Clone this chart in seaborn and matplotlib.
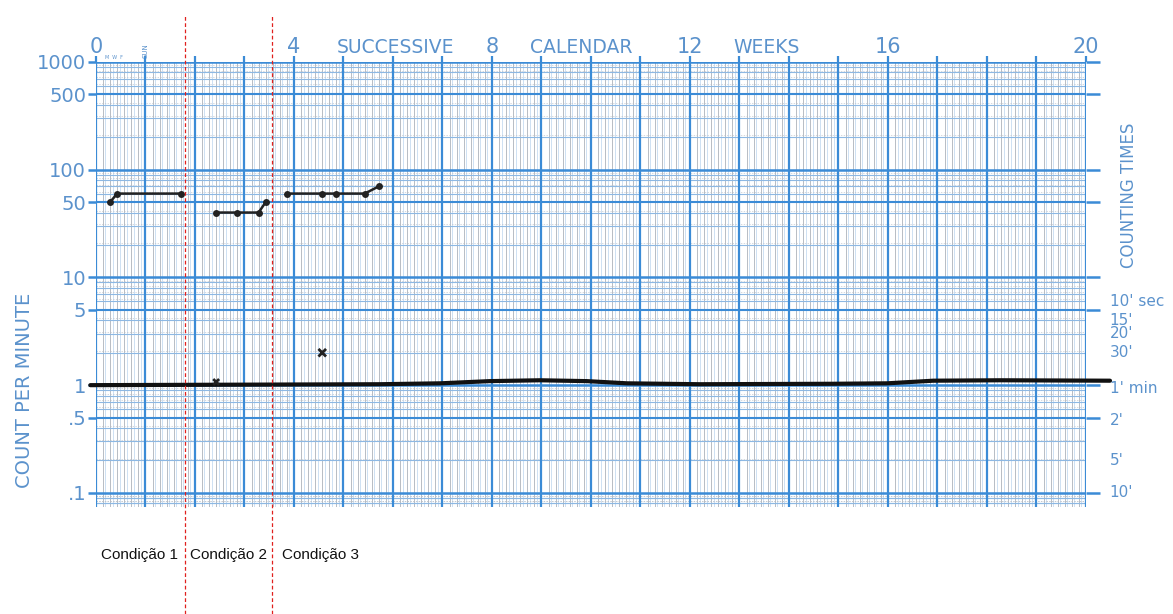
import numpy as np
import pandas as pd
import matplotlib
matplotlib.use("Agg")
import matplotlib.pyplot as plt
import matplotlib.transforms as mtransforms
import seaborn as sns

# ---- data -------------------------------------------------------------
cond1_days = [2, 3, 12]
cond1_rate = [50, 60, 60]
cond2_days = [17, 20, 23, 24]
cond2_rate = [40, 40, 40, 50]
cond3_days = [27, 32, 34, 38, 40]
cond3_rate = [60, 60, 60, 60, 70]

error_days = [17, 32]
error_rate = [1.07, 2.0]

floor_days = [-0.8, 40, 48.7, 55.7, 62.8, 69.4, 75.1, 85.4, 104.2, 111.9, 118.4, 127.9, 143.4]
floor_rate = [1.0, 1.02, 1.04, 1.09, 1.11, 1.09, 1.04, 1.02, 1.03, 1.04, 1.1, 1.11, 1.1]

phase_change_days = [12.6, 24.9]
phase_labels = ["Condição 1", "Condição 2", "Condição 3"]
phase_label_days = [6.1, 18.8, 31.7]

week_labels = {0: "0", 4: "4", 8: "8", 12: "12", 16: "16", 20: "20"}
week_words = {6.05: "SUCCESSIVE", 9.8: "CALENDAR", 13.55: "WEEKS"}
left_ticks = [0.1, 0.5, 1, 5, 10, 50, 100, 500, 1000]
left_tick_labels = [".1", ".5", "1", "5", "10", "50", "100", "500", "1000"]
counting_rates = [6, 4, 3, 2, 0.93, 0.47, 0.2, 0.1]
counting_labels = ["10' sec", "15'", "20'", "30'", "1' min", "2'", "5'", "10'"]

# ---- style ------------------------------------------------------------
sns.set_style("white")
plt.rcParams["font.family"] = ["DejaVu Sans"]
BLUE = "#3b8bd6"
LIGHT = "#8db8e3"
GREY = "#b7bcc4"
TXT = "#5b92cc"

fig = plt.figure(figsize=(11.73, 6.14), dpi=100)
ax = fig.add_axes([0.0818, 0.1743, 0.8440, 0.7248])
ax.set_yscale("log")
ax.set_xlim(0, 140)
ax.set_ylim(0.074, 1000)
for s in ax.spines.values():
    s.set_visible(False)

# ---- chart paper grid -------------------------------------------------
for d in range(0, 141):
    if d % 7 == 0:
        continue
    ax.axvline(d, color=GREY, lw=0.7, zorder=0)
    ax.axvline(d + 0.35, color=LIGHT, lw=0.5, alpha=0.6, zorder=0)
for d in range(0, 141, 7):
    ax.axvline(d, color=BLUE, lw=1.6, zorder=1)

minor_vals = []
for e in range(-2, 3):
    for m in [2, 3, 4, 6, 7, 8, 9]:
        minor_vals.append(m * 10.0 ** e)
minor_vals += [0.08, 0.09]
for v in minor_vals:
    ax.axhline(v, color=LIGHT, lw=0.8, zorder=0)
    ax.axhline(v * 1.04, color=GREY, lw=0.5, ls=(0, (2, 2)), alpha=0.8, zorder=0)
for v in [0.5, 5, 50, 500]:
    ax.axhline(v, color=BLUE, lw=1.5, zorder=1)
for v in [0.1, 1, 10, 100, 1000]:
    ax.axhline(v, color=BLUE, lw=1.8, zorder=1)

# ---- ticks -----------------------------------------------------------
ax.set_yticks(left_ticks)
ax.set_yticklabels(left_tick_labels)
ax.yaxis.set_minor_locator(matplotlib.ticker.NullLocator())
ax.tick_params(axis="y", which="major", left=True, length=6, width=1.8,
               color=BLUE, labelcolor=TXT, labelsize=14, pad=1)
ax.set_xticks(range(0, 141, 7))
ax.set_xticklabels([])
ax.tick_params(axis="x", which="major", bottom=False, top=True, length=4,
               width=1.6, color=BLUE)

ax2 = ax.twinx()
ax2.set_yscale("log")
ax2.set_ylim(ax.get_ylim())
for s in ax2.spines.values():
    s.set_visible(False)
ax2.set_yticks(left_ticks)
ax2.set_yticklabels([])
ax2.yaxis.set_minor_locator(matplotlib.ticker.NullLocator())
ax2.tick_params(axis="y", which="major", right=True, length=10, width=1.8, color=BLUE)
ax2.set_xlim(0, 140)

# counting-time scale on the right
rt = mtransforms.blended_transform_factory(ax.transAxes, ax.transData)
for v, lab in zip(counting_rates, counting_labels):
    ax.text(1.024, v, lab, transform=rt, ha="left", va="center", fontsize=11, color=TXT)

# ---- top week labels ---------------------------------------------------
topt = mtransforms.blended_transform_factory(ax.transData, ax.transAxes)
for w, lab in week_labels.items():
    ax.text(w * 7, 1.012, lab, transform=topt, ha="center", va="bottom", fontsize=15, color=TXT)
for w, lab in week_words.items():
    ax.text(w * 7, 1.012, lab, transform=topt, ha="center", va="bottom", fontsize=13.5, color=TXT)
ax.text(2.6, 1.004, "M  W  F", transform=topt, ha="center", va="bottom", fontsize=3.5, color=TXT)
ax.text(7.0, 1.008, "SUN", transform=topt, ha="center", va="bottom", fontsize=5, color=TXT, rotation=90)

fig.text(0.021, 0.365, "COUNT PER MINUTE", rotation=90, ha="center", va="center",
         fontsize=14, color=TXT)
ax.text(1.043, 58, "COUNTING TIMES", transform=rt,
        rotation=90, ha="center", va="center", fontsize=12, color=TXT)

# ---- data --------------------------------------------------------------
df = pd.concat([
    pd.DataFrame({"day": cond1_days, "rate": cond1_rate, "phase": "c1"}),
    pd.DataFrame({"day": cond2_days, "rate": cond2_rate, "phase": "c2"}),
    pd.DataFrame({"day": cond3_days, "rate": cond3_rate, "phase": "c3"}),
])
sns.lineplot(data=df, x="day", y="rate", units="phase", estimator=None, color="#222222",
             lw=1.8, marker="o", markersize=5, markeredgewidth=0, ax=ax, legend=False, zorder=5)

floor = pd.DataFrame({"day": floor_days, "rate": floor_rate})
sns.lineplot(data=floor, x="day", y="rate", estimator=None, color="#111111", lw=3.0,
             ax=ax, legend=False, zorder=6)
ax.lines[-1].set_clip_on(False)

err = pd.DataFrame({"day": error_days, "rate": error_rate})
sns.scatterplot(data=err, x="day", y="rate", marker="x", s=[18, 30], color="#222222",
                linewidth=2.0, ax=ax, legend=False, zorder=7)

ax.set_xlabel("")
ax.set_ylabel("")

# ---- phase change lines and labels -------------------------------------
for d in phase_change_days:
    ax.plot([d, d], [-0.24, 1.106], transform=topt, color="#e0201e", lw=0.9,
            ls=(0, (3, 2)), clip_on=False, zorder=8)
for d, lab in zip(phase_label_days, phase_labels):
    ax.text(d, -0.108, lab, transform=topt, ha="center", va="center",
            fontsize=11, color="#111111", family=["Liberation Sans", "DejaVu Sans"])

fig.savefig("out.png", dpi=100, facecolor="white")
